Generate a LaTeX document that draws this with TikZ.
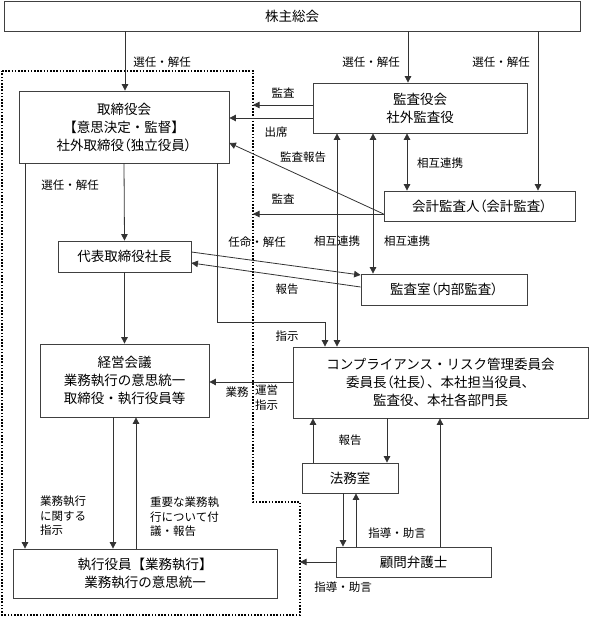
\documentclass[tikz,border=0pt]{standalone}
\usepackage{fontspec}
\newfontfamily\jp{Noto Sans CJK JP}
\newfontfamily\jpp{Noto Sans CJK JP}[RawFeature=+palt]
\newcommand\myLP{{\jpp （}}
\newcommand\myRP{{\jpp ）}}
\usetikzlibrary{arrows.meta,calc}
\begin{document}
\begin{tikzpicture}[x=1pt,y=-1pt,
  box/.style={draw=black!75,line width=0.8pt,fill=white,inner sep=0pt,align=center,font=\jp\fontsize{13.5}{18}\selectfont},
  lbl/.style={font=\jp\fontsize{11.5}{14.5}\selectfont,inner sep=0pt,align=left},
  arr/.style={draw=black!80,line width=0.8pt,-{Triangle[length=6.5pt,width=6.5pt]}},
  arrb/.style={draw=black!80,line width=0.8pt,{Triangle[length=6.5pt,width=6.5pt]}-{Triangle[length=6.5pt,width=6.5pt]}},
  dotb/.style={line width=1.6pt,dash pattern=on 1.6pt off 1.6pt}
]
\useasboundingbox (0,0) rectangle (589,623);

% dotted boundary
\coordinate (dTL) at (2,71);
\coordinate (dTR) at (253,71);
\coordinate (dM1) at (253,502);
\coordinate (dM2) at (300,502);
\coordinate (dBR) at (300,615);
\coordinate (dBL) at (2,615);
\draw[dotb] (dTL) -- (dTR) -- (dM1) -- (dM2) -- (dBR) -- (dBL) -- cycle;

% boxes
\node[box,minimum width=576pt,minimum height=30pt] (sh) at (292,16) {株主総会};
\node[box,minimum width=210pt,minimum height=72pt] (tb) at (124,127) {取締役会\\【意思決定・監督】\\社外取締役\myLP 独立役員\myRP};
\node[box,minimum width=214pt,minimum height=50pt] (ka) at (420,108) {監査役会\\社外監査役};
\node[box,minimum width=191pt,minimum height=30pt] (kk) at (479.5,206) {会計監査人\myLP 会計監査\myRP};
\node[box,minimum width=133pt,minimum height=31pt] (dh) at (124.5,256.5) {代表取締役社長};
\node[box,minimum width=166pt,minimum height=31pt] (ks) at (444,289.5) {監査室\myLP 内部監査\myRP};
\node[box,minimum width=169pt,minimum height=73pt] (kg) at (124.5,380.5) {経営会議\\業務執行の意思統一\\取締役・執行役員等};
\node[box,minimum width=295pt,minimum height=71pt] (cr) at (440.5,382.5) {コンプライアンス・リスク管理委員会\\委員長\myLP 社長\myRP 、本社担当役員、\\監査役、本社各部門長};
\node[box,minimum width=96pt,minimum height=30pt] (hm) at (350,478) {法務室};
\node[box,minimum width=155pt,minimum height=30pt] (kb) at (413.5,562) {顧問弁護士};
\node[box,minimum width=264pt,minimum height=49pt,font=\jp\fontsize{13.5}{17.5}\selectfont] (sy) at (145,573.5) {執行役員【業務執行】\\業務執行の意思統一};

% connectors from shareholders
\draw[arr] (125,0 |- sh.south) -- (125,0 |- tb.north);
\node[lbl] (l1) at (162,62) {選任・解任};
\draw[arr] (408,0 |- sh.south) -- (408,0 |- ka.north);
\node[lbl] (l2) at (371,62) {選任・解任};
\draw[arr] (538,0 |- sh.south) -- (538,0 |- kk.north);
\node[lbl] (l3) at (501,62) {選任・解任};

% audit board
\draw[arr] (ka.west |- 0,105) -- (dTR |- 0,105);
\node[lbl] (l4) at (283,93) {監査};
\draw[arr] (ka.west |- 0,118) -- (tb.east |- 0,118);
\node[lbl] (l5) at (276,132) {出席};

% accounting auditor
\draw[arr] (kk.west |- 0,214) -- (tb.east |- 0,143);
\node[lbl] (l6) at (303,157) {監査報告};
\draw[arr] (kk.west |- 0,214) -- (dTR |- 0,214);
\node[lbl] (l7) at (283,199) {監査};

% mutual cooperation
\draw[arrb] (407,0 |- ka.south) -- (407,0 |- kk.north);
\node[lbl] (l8) at (440,163) {相互連携};
\draw[arrb] (373,0 |- ka.south) -- (373,0 |- ks.north);
\node[lbl] (l9) at (407,241) {相互連携};
\draw[arrb] (337,0 |- ka.south) -- (337,0 |- cr.north);
\node[lbl] (l10) at (337,241) {相互連携};

% president <-> audit office
\draw[arr] (dh.east |- 0,252) -- (ks.west |- 0,275);
\node[lbl] (l11) at (257,242) {任命・解任};
\draw[arr] (ks.west |- 0,287) -- (dh.east |- 0,263);
\node[lbl] (l12) at (287,289) {報告};

% board chain
\draw[arr] (tb.south) -- (dh.north);
\node[lbl] (l13) at (70,185) {選任・解任};
\draw[arr] (dh.south) -- (kg.north);
\draw[arr] (217,0 |- tb.south) |- (325,322) -- (325,0 |- cr.north);
\node[lbl] (l14) at (287,336) {指示};

% to executive officers
\draw[arr] (25,0 |- tb.south) -- (25,0 |- sy.north);
\node[lbl,anchor=north west] (l15) at (40,496) {業務執行\\に関する\\指示};
\draw[arr] (113,0 |- kg.south) -- (113,0 |- sy.north);
\draw[arr] (136,0 |- sy.north) -- (136,0 |- kg.south);
\node[lbl,anchor=north west] (l16) at (150,497) {重要な業務執\\行について付\\議・報告};

% compliance
\draw[arr] (cr.west |- 0,382) -- (kg.east |- 0,382);
\node[lbl] (l17) at (237,392) {業務};
\node[lbl,anchor=north west] (l18) at (255,385) {運営\\指示};
\draw[arr] (387,0 |- cr.south) -- (387,0 |- hm.north);
\node[lbl] (l19) at (350,440) {報告};
\draw[arr] (313,0 |- hm.north) -- (313,0 |- cr.south);
\draw[arr] (440,0 |- kb.north) -- (440,0 |- cr.south);
\draw[arr] (343,0 |- hm.south) -- (343,0 |- kb.north);
\draw[arr] (356,0 |- kb.north) -- (356,0 |- hm.south);
\node[lbl] (l20) at (397,533) {指導・助言};
\draw[arr] (kb.west |- 0,562) -- (dM2 |- 0,562);
\node[lbl] (l21) at (343,587) {指導・助言};
\end{tikzpicture}
\end{document}
